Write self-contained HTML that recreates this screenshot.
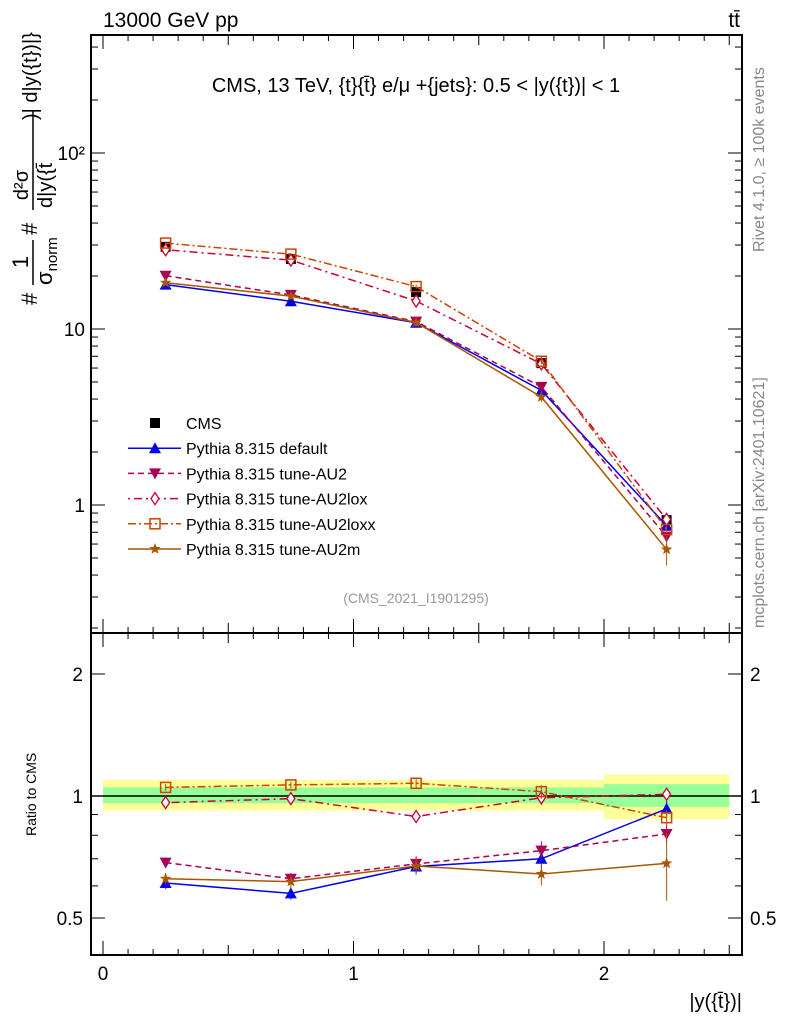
<!DOCTYPE html>
<html><head><meta charset="utf-8"><style>
body{margin:0;background:#fff}
svg{display:block;font-family:"Liberation Sans",sans-serif}
</style></head><body>
<svg id="c" width="786" height="1024" viewBox="0 0 786 1024" xmlns="http://www.w3.org/2000/svg">
<text x="103" y="27" font-size="21">13000 GeV pp</text>
<text x="740" y="27" font-size="21" text-anchor="end">tt̄</text>
<text x="416" y="92" font-size="20" text-anchor="middle">CMS, 13 TeV, {t}{t̄} e/μ +{jets}: 0.5 &lt; |y({t})| &lt; 1</text>
<text x="416" y="603" font-size="14" fill="#999" text-anchor="middle">(CMS_2021_I1901295)</text>
<text transform="translate(764,252) rotate(-90)" font-size="16" fill="#888">Rivet 4.1.0, ≥ 100k events</text>
<text transform="translate(764,628) rotate(-90)" font-size="16" fill="#888">mcplots.cern.ch [arXiv:2401.10621]</text>
<g transform="rotate(-90)" font-size="22">
<text x="-305" y="37">#</text>
<text x="-262" y="28" font-size="22" text-anchor="middle">1</text>
<line x1="-285" x2="-240" y1="33" y2="33" stroke="#000" stroke-width="1.5"/>
<text x="-285" y="52" font-size="22">σ<tspan font-size="15" dy="5">norm</tspan></text>
<text x="-235" y="37">#</text>
<text x="-185" y="28" font-size="20" text-anchor="middle">d²σ</text>
<line x1="-210" x2="-110" y1="33" y2="33" stroke="#000" stroke-width="1.5"/>
<text x="-208" y="52" font-size="20">d|y({t̄</text>
<text x="-120" y="37" font-size="20">)| d|y({t})|}</text>
</g>
<text transform="translate(36,836) rotate(-90)" font-size="14">Ratio to CMS</text>
<text x="742" y="1008" font-size="20" text-anchor="end">|y({t̄})|</text>
<g id="g"></g>
</svg>
<script>
const binCenters=[0.25,0.75,1.25,1.75,2.25];
const binEdges=[0,0.5,1,1.5,2,2.5];
const cmsValues=[29.3,25.0,16.2,6.4,0.82];
const cmsErrRel=[0.04,0.04,0.04,0.05,0.1];
const bandYellowLo=[0.92,0.92,0.92,0.92,0.877];
const bandYellowHi=[1.095,1.095,1.095,1.095,1.13];
const bandGreenLo=[0.96,0.96,0.96,0.96,0.94];
const bandGreenHi=[1.05,1.05,1.05,1.05,1.07];
const ratioDefault=[0.61,0.575,0.67,0.70,0.93];
const ratioAU2=[0.685,0.625,0.68,0.733,0.806];
const ratioAU2lox=[0.963,0.985,0.89,0.99,1.01];
const ratioAU2loxx=[1.05,1.065,1.075,1.025,0.884];
const ratioAU2m=[0.625,0.615,0.672,0.642,0.682];
const ratioErr=[0.02,0.02,0.03,0.04,0.13];
const xTicks=[0,1,2];
const mainYTicks=[1,10,100];
const mainYTickLabels=["1","10","10²"];
const ratioYTicks=[0.5,1,2];

const L=91,R=742,T1=35,B1=633,B2=955;
const X=v=>103+v*250.5;
const Y1=v=>329-176*Math.log10(v/10);
const Y2=v=>796-122*Math.log2(v);
const g=document.getElementById('g');
const NS='http://www.w3.org/2000/svg';
function mk(t,a,p){const e=document.createElementNS(NS,t);for(const k in a)e.setAttribute(k,a[k]);(p||g).appendChild(e);return e;}

for(let i=0;i<5;i++){
 let r=mk('rect',{x:X(binEdges[i]),y:Y2(bandYellowHi[i]),width:X(binEdges[i+1])-X(binEdges[i]),height:Y2(bandYellowLo[i])-Y2(bandYellowHi[i]),fill:'#ffff99'});
 
 
 let q=mk('rect',{x:X(binEdges[i]),y:Y2(bandGreenHi[i]),width:X(binEdges[i+1])-X(binEdges[i]),height:Y2(bandGreenLo[i])-Y2(bandGreenHi[i]),fill:'#99ff99'});
 
 
}
let ul=mk('line',{x1:L,x2:R,y1:Y2(1),y2:Y2(1),stroke:'#000','stroke-width':1.5});



let f1=mk('rect',{x:L,y:T1,width:R-L,height:B1-T1,fill:'none',stroke:'#000','stroke-width':2});


let f2=mk('rect',{x:L,y:B1,width:R-L,height:B2-B1,fill:'none',stroke:'#000','stroke-width':2});



for(let k=0;k<=25;k++){const v=k/10,x=X(v);const len=k%10==0?14:(k%5==0?10:6);
 [[T1,1],[B1,-1],[B1,1],[B2,-1]].forEach(([y,d])=>mk('line',{x1:x,x2:x,y1:y,y2:y+d*len,stroke:'#000'}));}
xTicks.forEach(v=>{let t=mk('text',{x:X(v),y:980,'font-size':19,'text-anchor':'middle'});t.textContent=v;
 
 });
for(let d=-1;d<=2;d++)for(let m=1;m<10;m++){const v=m*Math.pow(10,d),y=Y1(v);if(y<T1||y>B1)continue;const len=m==1?14:7;
 mk('line',{x1:L,x2:L+len,y1:y,y2:y,stroke:'#000'});mk('line',{x1:R,x2:R-len,y1:y,y2:y,stroke:'#000'});}
mainYTicks.forEach((v,i)=>{let t=mk('text',{x:L-6,y:Y1(v)+7,'font-size':19,'text-anchor':'end'});t.textContent=mainYTickLabels[i];
 
 });
[0.5,0.6,0.7,0.8,0.9,1,2].forEach(v=>{const y=Y2(v),len=(v==0.5||v==1||v==2)?14:7;
 mk('line',{x1:L,x2:L+len,y1:y,y2:y,stroke:'#000'});mk('line',{x1:R,x2:R-len,y1:y,y2:y,stroke:'#000'});});
ratioYTicks.forEach(v=>{[[L-8,'end'],[R+8,'start']].forEach(([x,a])=>{let t=mk('text',{x:x,y:Y2(v)+7,'font-size':19,'text-anchor':a});t.textContent=v;
 
 });});

function marker(type,x,y,c,p){
 if(type=='sq')mk('rect',{x:x-5,y:y-5,width:10,height:10,fill:'#000'},p);
 else if(type=='up')mk('polygon',{points:`${x},${y-6} ${x-6},${y+5} ${x+6},${y+5}`,fill:c},p);
 else if(type=='dn')mk('polygon',{points:`${x},${y+6} ${x-6},${y-5} ${x+6},${y-5}`,fill:c},p);
 else if(type=='dia')mk('polygon',{points:`${x},${y-6} ${x-4},${y} ${x},${y+6} ${x+4},${y}`,fill:'#fff',stroke:c,'stroke-width':1.3},p);
 else if(type=='osq')mk('rect',{x:x-5,y:y-5,width:10,height:10,fill:'none',stroke:c,'stroke-width':1.5},p);
 else if(type=='star'){let s='';for(let i=0;i<10;i++){const r=i%2?2.5:6,a=-Math.PI/2+i*Math.PI/5;s+=(x+r*Math.cos(a))+','+(y+r*Math.sin(a))+' ';}mk('polygon',{points:s,fill:c},p);}
}
const series=[
 {name:'Pythia 8.315 default',r:ratioDefault,c:'#0000ee',dash:'',m:'up',id:'default'},
 {name:'Pythia 8.315 tune-AU2',r:ratioAU2,c:'#aa0055',dash:'6,4',m:'dn',id:'au2'},
 {name:'Pythia 8.315 tune-AU2lox',r:ratioAU2lox,c:'#cc0033',dash:'2,4,8,4',m:'dia',id:'au2lox'},
 {name:'Pythia 8.315 tune-AU2loxx',r:ratioAU2loxx,c:'#cc4400',dash:'8,3,2,3',m:'osq',id:'au2loxx'},
 {name:'Pythia 8.315 tune-AU2m',r:ratioAU2m,c:'#aa5500',dash:'',m:'star',id:'au2m'}];

const cg=mk('g',{});


binCenters.forEach((b,i)=>{const v=cmsValues[i];mk('line',{x1:X(b),x2:X(b),y1:Y1(v*(1+cmsErrRel[i])),y2:Y1(v*(1-cmsErrRel[i])),stroke:'#000'},cg);marker('sq',X(b),Y1(v),'#000',cg);});

series.forEach(s=>{
 const gm=mk('g',{});
 
 
 const vals=s.r.map((r,i)=>r*cmsValues[i]);
 mk('polyline',{points:binCenters.map((b,i)=>X(b)+','+Y1(vals[i])).join(' '),fill:'none',stroke:s.c,'stroke-width':1.5,'stroke-dasharray':s.dash},gm);
 mk('polyline',{points:binCenters.map((b,i)=>X(b)+','+Y2(s.r[i])).join(' '),fill:'none',stroke:s.c,'stroke-width':1.5,'stroke-dasharray':s.dash},gm);
 binCenters.forEach((b,i)=>{
  const e=(s.id=='au2m'||i<4)?ratioErr[i]:0.04;
  mk('line',{x1:X(b),x2:X(b),y1:Y2(s.r[i]+e),y2:Y2(s.r[i]-e),stroke:s.c},gm);
  mk('line',{x1:X(b),x2:X(b),y1:Y1(vals[i]*(1+e/s.r[i])),y2:Y1(vals[i]*(1-e/s.r[i])),stroke:s.c},gm);
  marker(s.m,X(b),Y1(vals[i]),s.c,gm);marker(s.m,X(b),Y2(s.r[i]),s.c,gm);
 });
});

const lg=mk('g',{});


const items=[{name:'CMS',m:'sq',c:'#000',dash:null}].concat(series);
items.forEach((s,i)=>{const y=423+i*25.2;
 const e=mk('g',{},lg);
 
 
 if(s.dash!==null)mk('line',{x1:128,x2:181,y1:y,y2:y,stroke:s.c,'stroke-width':1.5,'stroke-dasharray':s.dash},e);
 marker(s.m,155,y,s.c,e);
 const t=mk('text',{x:186,y:y+6,'font-size':16},e);t.textContent=s.name;});
</script>
</body></html>
